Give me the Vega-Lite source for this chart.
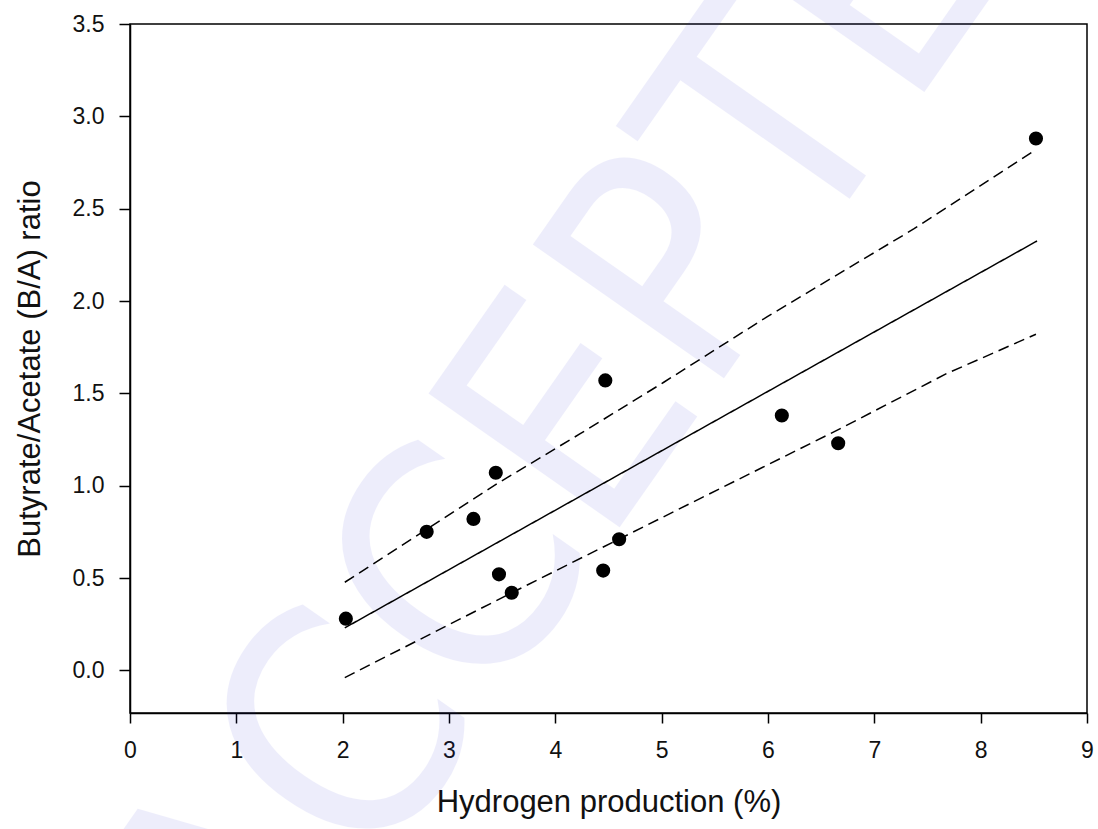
{
  "$schema": "https://vega.github.io/schema/vega-lite/v6.json",
  "width": 957,
  "height": 689,
  "autosize": {"type": "none"},
  "padding": {"left": 130, "top": 24, "right": 11, "bottom": 116},
  "background": "white",
  "config": {
    "view": {"stroke": "black", "strokeWidth": 1.5},
    "font": "Liberation Sans",
    "axis": {
      "grid": false,
      "domainColor": "black",
      "domainWidth": 1.5,
      "tickColor": "black",
      "tickWidth": 1.5,
      "labelColor": "#111111",
      "titleColor": "#111111",
      "labelFont": "Liberation Sans",
      "titleFont": "Liberation Sans",
      "labelFontSize": 23,
      "titleFontSize": 31,
      "titleFontWeight": "normal",
      "labelFlush": false,
      "labelOverlap": false
    }
  },
  "datasets": {
    "watermark": [
      {"x": 1.251, "y": -1.983, "label": "ACCEPTED MANUSCRIPT"}
    ],
    "lines": [
      {"x": 2.02, "y": 0.23, "series": "fit"},
      {"x": 8.53, "y": 2.325, "series": "fit"},
      {"x": 2.02, "y": 0.477, "series": "upper"},
      {"x": 3.45, "y": 1.01, "series": "upper"},
      {"x": 4.23, "y": 1.28, "series": "upper"},
      {"x": 5.02, "y": 1.56, "series": "upper"},
      {"x": 5.99, "y": 1.914, "series": "upper"},
      {"x": 7.37, "y": 2.39, "series": "upper"},
      {"x": 8.52, "y": 2.82, "series": "upper"},
      {"x": 2.02, "y": -0.039, "series": "lower"},
      {"x": 3.59, "y": 0.42, "series": "lower"},
      {"x": 5.36, "y": 0.93, "series": "lower"},
      {"x": 6.68, "y": 1.309, "series": "lower"},
      {"x": 7.68, "y": 1.607, "series": "lower"},
      {"x": 8.52, "y": 1.82, "series": "lower"}
    ],
    "points": [
      {"x": 2.03, "y": 0.28},
      {"x": 2.79, "y": 0.75},
      {"x": 3.23, "y": 0.82},
      {"x": 3.44, "y": 1.07},
      {"x": 3.47, "y": 0.52},
      {"x": 3.59, "y": 0.42},
      {"x": 4.45, "y": 0.54},
      {"x": 4.47, "y": 1.57},
      {"x": 4.60, "y": 0.71},
      {"x": 6.13, "y": 1.38},
      {"x": 6.66, "y": 1.23},
      {"x": 8.52, "y": 2.88}
    ]
  },
  "encoding": {
    "x": {
      "field": "x",
      "type": "quantitative",
      "scale": {"domain": [0, 9], "nice": false, "zero": false},
      "axis": {
        "title": "Hydrogen production (%)",
        "values": [0, 1, 2, 3, 4, 5, 6, 7, 8, 9],
        "format": "d",
        "tickSize": 10,
        "labelPadding": 16,
        "titlePadding": 25
      }
    },
    "y": {
      "field": "y",
      "type": "quantitative",
      "scale": {"domain": [-0.231, 3.5], "nice": false, "zero": false},
      "axis": {
        "title": "Butyrate/Acetate (B/A) ratio",
        "values": [0, 0.5, 1, 1.5, 2, 2.5, 3, 3.5],
        "format": ".1f",
        "tickSize": 11,
        "labelPadding": 15,
        "titlePadding": 26
      }
    }
  },
  "layer": [
    {
      "data": {"name": "watermark"},
      "mark": {
        "type": "text",
        "font": "'Liberation Sans Narrow', 'DejaVu Sans Condensed', 'Liberation Sans'",
        "fontSize": 320,
        "angle": -55,
        "align": "left",
        "baseline": "alphabetic",
        "color": "#2b2bd9",
        "opacity": 0.08
      },
      "encoding": {"text": {"field": "label"}}
    },
    {
      "data": {"name": "lines"},
      "mark": {"type": "line", "color": "black", "strokeWidth": 1.5},
      "encoding": {
        "strokeDash": {
          "field": "series",
          "type": "nominal",
          "scale": {"domain": ["fit", "upper", "lower"], "range": [[1, 0], [11, 6], [11, 6]]},
          "legend": null
        }
      }
    },
    {
      "data": {"name": "points"},
      "mark": {"type": "point", "filled": true, "shape": "circle", "size": 200, "color": "black", "opacity": 1}
    }
  ]
}
